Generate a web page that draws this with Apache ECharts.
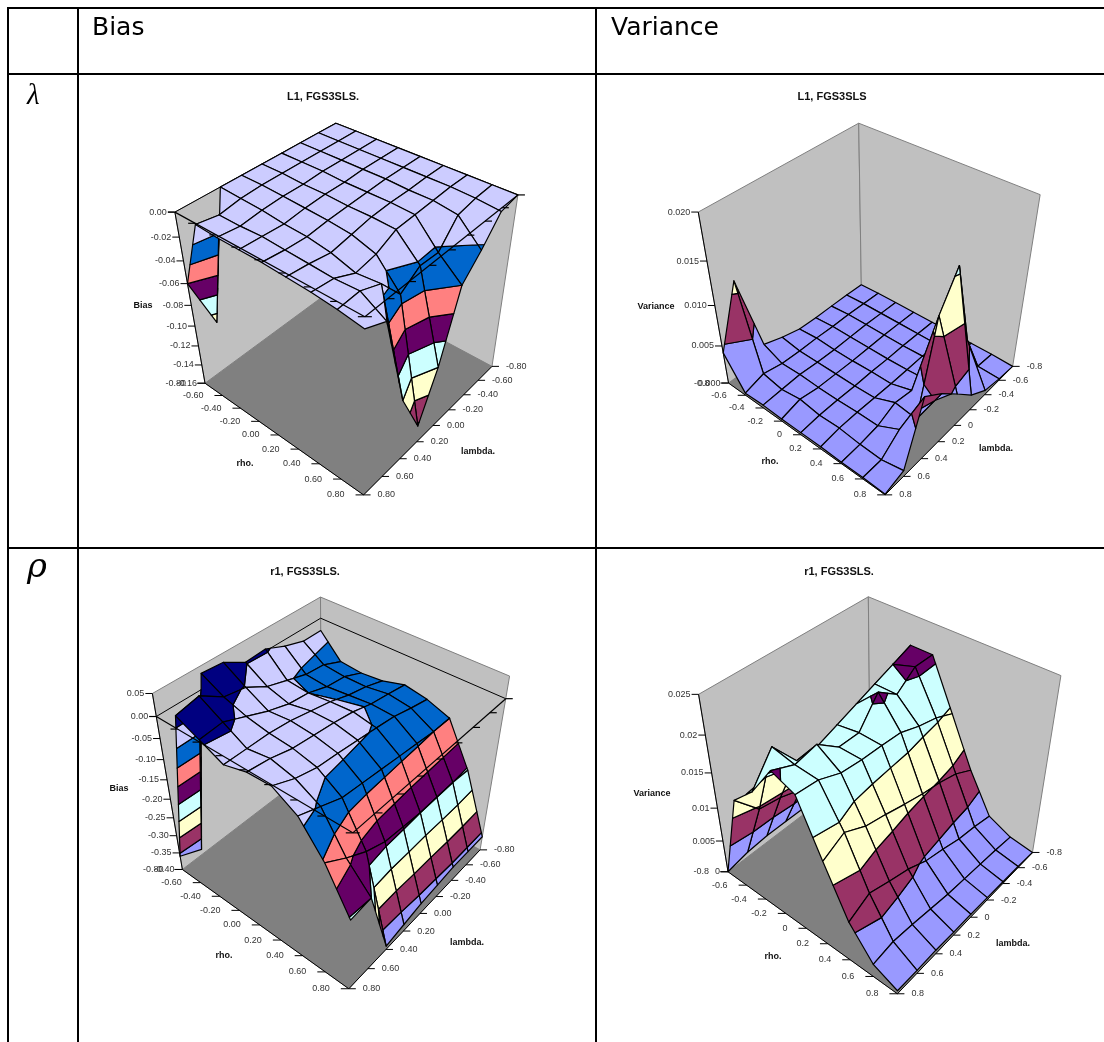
<!DOCTYPE html>
<html><head><meta charset="utf-8">
<style>html,body{margin:0;padding:0;background:#fff}#c{width:1104px;height:1042px}</style>
<script src="https://cdn.jsdelivr.net/npm/echarts@6/dist/echarts.min.js"></script>
</head><body><div id="c"></div>
<script>
const rhoLong=['-0.80','-0.60','-0.40','-0.20','0.00','0.20','0.40','0.60','0.80'];
const rhoShort=['-0.8','-0.6','-0.4','-0.2','0','0.2','0.4','0.6','0.8'];
const zTicksBiasL=['-0.16','-0.14','-0.12','-0.10','-0.08','-0.06','-0.04','-0.02','0.00'];
const zTicksVarL=['0.000','0.005','0.010','0.015','0.020'];
const zTicksBiasR=['-0.40','-0.35','-0.30','-0.25','-0.20','-0.15','-0.10','-0.05','0.00','0.05'];
const zTicksVarR=['0','0.005','0.01','0.015','0.02','0.025'];
const palette=['#9999FF','#993366','#FFFFCC','#CCFFFF','#660066','#FF8080','#0066CC','#CCCCFF','#000080'];
// rows: rho -0.8..0.8, columns: lambda -0.8..0.8
const biasLambda=[
[0,0,0,0,0,0,0,-0.11,-0.06],
[0,0,0,0,0,0,-0.001,-0.004,-0.001],
[0,0,0,0,-0.001,-0.001,-0.002,-0.004,-0.002],
[0,0,0,-0.001,-0.001,-0.002,-0.004,-0.003,-0.002],
[0,0,0,-0.001,-0.002,-0.003,-0.005,-0.004,-0.002],
[0,0,-0.001,-0.001,-0.002,-0.005,-0.008,-0.005,-0.003],
[0,0,-0.001,-0.002,-0.003,-0.011,-0.014,-0.006,-0.004],
[0,-0.001,-0.004,-0.023,-0.022,-0.033,-0.012,-0.005,-0.006],
[0,-0.003,-0.023,-0.04,-0.1,-0.143,-0.1,-0.017,-0.009]];
const varLambda=[
[0,0.0001,0.0001,0.0001,0.0002,0.0008,0.0016,0.0113,0.0041],
[0.0001,0.0002,0.0003,0.0003,0.0004,0.0004,0.0005,0.001,0.0003],
[0.0001,0.0002,0.0003,0.0003,0.0003,0.0004,0.0006,0.0005,0.0004],
[0.0001,0.0002,0.0003,0.0003,0.0003,0.0004,0.0005,0.0009,0.0003],
[0.0001,0.0002,0.0003,0.0003,0.0004,0.0004,0.0005,0.0005,0.0003],
[0.0001,0.0002,0.0004,0.0004,0.0004,0.0005,0.0006,0.0006,0.0003],
[0.0001,0.0002,0.0005,0.0006,0.0012,0.0016,0.0006,0.0003,0.0002],
[0.0001,0.0003,0.0056,0.0158,0.012,0.0012,0.002,0.0002,0.0002],
[0,0.0002,0.0006,0.002,0.0042,0.0063,0.008,0.0008,0.0001]];
const biasRho=[
[-0.03,-0.03,-0.015,0.005,0.002,0.03,0.034,-0.385,-0.36],
[-0.085,-0.065,-0.06,-0.045,-0.03,-0.002,0.007,0.04,0.029],
[-0.09,-0.07,-0.065,-0.05,-0.045,-0.03,-0.01,0.01,0.005],
[-0.085,-0.07,-0.06,-0.045,-0.035,-0.025,-0.02,-0.02,-0.02],
[-0.07,-0.062,-0.055,-0.042,-0.035,-0.03,-0.025,-0.012,-0.005],
[-0.08,-0.07,-0.058,-0.052,-0.047,-0.042,-0.038,-0.025,-0.003],
[-0.10,-0.10,-0.095,-0.09,-0.085,-0.08,-0.075,-0.055,-0.035],
[-0.205,-0.20,-0.20,-0.20,-0.195,-0.19,-0.17,-0.14,-0.105],
[-0.36,-0.36,-0.36,-0.365,-0.37,-0.38,-0.39,-0.20,-0.205]];
const varRho=[
[0.001,0.001,0.001,0.001,0.001,0.001,0.001,0.0007,0],
[0.008,0.008,0.008,0.008,0.008,0.008,0.009,0.0095,0.013],
[0.021,0.02,0.019,0.018,0.017,0.016,0.016,0.0198,0.016],
[0.021,0.021,0.019,0.021,0.0175,0.0175,0.0198,0.0192,0.0205],
[0.0143,0.0155,0.0162,0.0172,0.0174,0.0175,0.0178,0.019,0.0193],
[0.0075,0.009,0.0098,0.0103,0.011,0.0118,0.0125,0.014,0.0125],
[0.002,0.0026,0.003,0.0038,0.0045,0.0058,0.0066,0.0075,0.006],
[0.0005,0.0008,0.001,0.0012,0.0014,0.0018,0.0022,0.0025,0.002],
[0,0.0002,0.0003,0.0004,0.0005,0.0005,0.0006,0.0005,0.0005]];

const panels=[
{title:'L1, FGS3SLS.',zName:'Bias',values:biasLambda,zTicks:zTicksBiasL,gridLabels:rhoLong,
 cube:{L:[175,212,205,383],K:[337,123,338,285],R:[518,195,492,366],B:[363,317,365,495]},
 titlePos:[323,97],zNamePos:[143,306],rhoPos:[245,464],lamPos:[478,452]},
{title:'L1, FGS3SLS',zName:'Variance',values:varLambda,zTicks:zTicksVarL,gridLabels:rhoShort,
 cube:{L:[699,212,728,383],K:[859,123,861,285],R:[1041,195,1012,366],B:[885,317,887,495]},
 titlePos:[832,97],zNamePos:[656,307],rhoPos:[770,462],lamPos:[996,449]},
{title:'r1, FGS3SLS.',zName:'Bias',values:biasRho,zTicks:zTicksBiasR,gridLabels:rhoLong,
 cube:{L:[152,692,183,872],K:[320,599,322,760],R:[510,675,480,852],B:[354,809,348,987]},
 titlePos:[305,572],zNamePos:[119,789],rhoPos:[224,956],lamPos:[467,943]},
{title:'r1, FGS3SLS.',zName:'Variance',values:varRho,zTicks:zTicksVarR,gridLabels:rhoShort,
 cube:{L:[698,693,729,875],K:[868,599,870,760],R:[1062,675,1032,855],B:[901,809,897,992]},
 titlePos:[839,572],zNamePos:[652,794],rhoPos:[773,957],lamPos:[1013,944]}
];

function gauss(A,b){const n=b.length;
 for(let i=0;i<n;i++){let p=i;for(let k=i+1;k<n;k++)if(Math.abs(A[k][i])>Math.abs(A[p][i]))p=k;
  [A[i],A[p]]=[A[p],A[i]];[b[i],b[p]]=[b[p],b[i]];
  for(let k=i+1;k<n;k++){const f=A[k][i]/A[i][i];for(let j=i;j<n;j++)A[k][j]-=f*A[i][j];b[k]-=f*b[i];}}
 const x=new Array(n).fill(0);
 for(let i=n-1;i>=0;i--){let s=b[i];for(let j=i+1;j<n;j++)s-=A[i][j]*x[j];x[i]=s/A[i][i];}
 return x;}
function camera(cube){
 // u along rho, v along lambda, w along z; fitted from the 8 corners of the box
 const pts=[[0,1,cube.L],[0,0,cube.K],[1,0,cube.R],[1,1,cube.B]];
 const rows=[],rhs=[];
 pts.forEach(([u,v,c])=>{[[1,c[0],c[1]],[0,c[2],c[3]]].forEach(([w,x0,y0])=>{
  const x=x0/1000,y=y0/1000;
  rows.push([u,v,w,1,0,0,0,0,-x*u,-x*v,-x*w]);rhs.push(x);
  rows.push([0,0,0,0,u,v,w,1,-y*u,-y*v,-y*w]);rhs.push(y);});});
 const n=11,N=[],d=[];
 for(let i=0;i<n;i++){N.push(new Array(n).fill(0));d.push(0);
  for(let r=0;r<rows.length;r++){d[i]+=rows[r][i]*rhs[r];for(let j=0;j<n;j++)N[i][j]+=rows[r][i]*rows[r][j];}}
 const p=gauss(N,d);
 return (u,v,w)=>{const q=p[8]*u+p[9]*v+p[10]*w+1;
  return [1000*(p[0]*u+p[1]*v+p[2]*w+p[3])/q,1000*(p[4]*u+p[5]*v+p[6]*w+p[7])/q];};
}
function clipZ(poly,lim,keepAbove){
 const out=[],inside=q=>keepAbove?q[2]>=lim:q[2]<=lim;
 for(let i=0;i<poly.length;i++){const a=poly[i],b=poly[(i+1)%poly.length];
  const ia=inside(a),ib=inside(b);
  if(ia)out.push(a);
  if(ia!==ib){const t=(lim-a[2])/(b[2]-a[2]);out.push([a[0]+t*(b[0]-a[0]),a[1]+t*(b[1]-a[1]),lim]);}}
 return out;}

const series=[];
panels.forEach(P=>{
 const cam=camera(P.cube);
 const levels=P.zTicks.map(Number).sort((a,b)=>a-b);
 const zMin=levels[0],zMax=levels[levels.length-1];
 const W=z=>(z-zMin)/(zMax-zMin);
 const pr=(r,l,z)=>cam(r/8,l/8,W(z));
 const labels=P.gridLabels;
 const FONT='9px "Liberation Sans"',BOLD='bold 9px "Liberation Sans"';
 const has0=zMin<0&&zMax>=0;
 // frame
 series.push({type:'custom',coordinateSystem:'cartesian2d',silent:true,animation:false,z:1,data:[[0,0]],
  renderItem(params,api){
   const c=q=>api.coord(q);
   const poly=(a,fill,stroke)=>({type:'polygon',shape:{points:a.map(c)},style:{fill:fill,stroke:stroke,lineWidth:1}});
   const line=(a,b,col,w)=>({type:'line',shape:{x1:c(a)[0],y1:c(a)[1],x2:c(b)[0],y2:c(b)[1]},style:{stroke:col||'#000',lineWidth:w||1}});
   const text=(t,q,align,font)=>({type:'text',style:{text:t,x:c(q)[0],y:c(q)[1],align:align,verticalAlign:'middle',textAlign:align,textVerticalAlign:'middle',font:font||FONT,fill:font?'#111':'#333'}});
   const ch=[];
   ch.push(poly([pr(0,8,zMin),pr(0,0,zMin),pr(8,0,zMin),pr(8,8,zMin)],'#808080','#808080'));
   ch.push(poly([pr(0,8,zMax),pr(0,0,zMax),pr(0,0,zMin),pr(0,8,zMin)],'#C0C0C0','#808080'));
   ch.push(poly([pr(0,0,zMax),pr(8,0,zMax),pr(8,0,zMin),pr(0,0,zMin)],'#C0C0C0','#808080'));
   // value axis
   ch.push(line(pr(0,8,zMax),pr(0,8,zMin)));
   levels.forEach((z,i)=>{const q=pr(0,8,z);
    ch.push(line(q,[q[0]-7,q[1]]));
    ch.push(text(P.zTicks.map(s=>[Number(s),s]).find(e=>e[0]===z)[1],[q[0]-8,q[1]],'right'));});
   // floor axes
   ch.push(line(pr(0,8,zMin),pr(8,8,zMin)));
   ch.push(line(pr(8,8,zMin),pr(8,0,zMin)));
   for(let i=0;i<9;i++){
    const a=pr(i,8,zMin);ch.push(line(a,[a[0]-8,a[1]]));ch.push(text(labels[i],[a[0]-19,a[1]],'right'));
    const b=pr(8,i,zMin);ch.push(line(b,[b[0]+7,b[1]]));ch.push(text(labels[i],[b[0]+14,b[1]],'left'));
   }
   // zero-level plane on the walls
   if(has0){ch.push(line(pr(0,8,0),pr(0,0,0)));ch.push(line(pr(0,0,0),pr(8,0,0)));}
   ch.push({type:'text',style:{text:P.title,x:c(P.titlePos)[0],y:c(P.titlePos)[1],align:'center',verticalAlign:'middle',textAlign:'center',textVerticalAlign:'middle',font:'bold 11px "Liberation Sans"',fill:'#111'}});
   ch.push(text(P.zName,P.zNamePos,'center',BOLD));
   ch.push(text('rho.',P.rhoPos,'center',BOLD));
   ch.push(text('lambda.',P.lamPos,'center',BOLD));
   return {type:'group',children:ch};
  }});
 // surface cells, painted from the back corner forward
 const cells=[];
 for(let r=0;r<8;r++)for(let l=0;l<8;l++)cells.push([r,l]);
 series.push({type:'custom',coordinateSystem:'cartesian2d',silent:true,animation:false,z:2,data:cells,
  renderItem(params,api){
   const r=api.value(0),l=api.value(1),V=P.values;
   const quad=[[r,l,V[r][l]],[r+1,l,V[r+1][l]],[r+1,l+1,V[r+1][l+1]],[r,l+1,V[r][l+1]]];
   const ch=[];
   for(let b=0;b<levels.length-1;b++){
    let pg=clipZ(quad,levels[b],true);
    if(pg.length>=3)pg=clipZ(pg,levels[b+1],false);
    if(pg.length<3)continue;
    ch.push({type:'polygon',shape:{points:pg.map(q=>api.coord(pr(q[0],q[1],q[2])))},
     style:{fill:palette[b],stroke:'#000',lineWidth:1.2,lineJoin:'round'}});
   }
   return {type:'group',children:ch};
  }});
 // front axes of the zero plane, on top of the surface
 if(has0)series.push({type:'custom',coordinateSystem:'cartesian2d',silent:true,animation:false,z:3,data:[[0,0]],
  renderItem(params,api){
   const c=q=>api.coord(q);
   const line=(a,b)=>({type:'line',shape:{x1:c(a)[0],y1:c(a)[1],x2:c(b)[0],y2:c(b)[1]},style:{stroke:'#000',lineWidth:1.2}});
   const ch=[line(pr(0,8,0),pr(8,8,0)),line(pr(8,8,0),pr(8,0,0))];
   for(let i=0;i<9;i++){const a=pr(i,8,0);ch.push(line(a,[a[0]-7,a[1]]));const b=pr(8,i,0);ch.push(line(b,[b[0]+7,b[1]]));}
   return {type:'group',children:ch};
  }});
});

const H=(y)=>({type:'line',z:10,shape:{x1:8,y1:y,x2:1104,y2:y},style:{stroke:'#000',lineWidth:2}});
const Vl=(x,y0)=>({type:'line',z:10,shape:{x1:x,y1:y0||7,x2:x,y2:1042},style:{stroke:'#000',lineWidth:2}});
const T=(t,x,y,font)=>({type:'text',z:10,x:x,y:y,style:{text:t,font:font,fill:'#000'}});
const chart=echarts.init(document.getElementById('c'),null,{renderer:'canvas'});
chart.setOption({animation:false,backgroundColor:'#fff',
 grid:{left:0,top:0,width:1104,height:1042,show:false},
 xAxis:{type:'value',min:0,max:1104,show:false},
 yAxis:{type:'value',min:0,max:1042,inverse:true,show:false},
 graphic:[H(8),H(74),H(548),Vl(8),Vl(78),Vl(596),
  T('Bias',92,16,'25px "DejaVu Sans"'),T('Variance',611,16,'25px "DejaVu Sans"'),
  T('λ',27,82,'italic 29px "Liberation Serif"'),T('ρ',27,551,'italic 34px "DejaVu Serif"')],
 series:series});
</script></body></html>
